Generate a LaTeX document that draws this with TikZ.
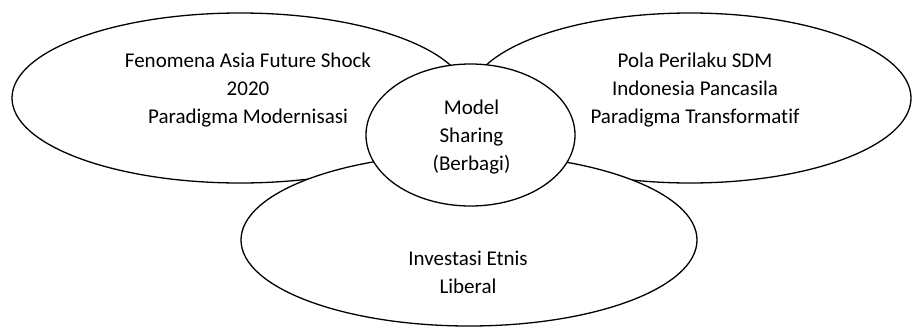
\documentclass[tikz,border=0pt]{standalone}
\usepackage{fontspec}
\setmainfont{Carlito}[Ligatures=CommonOff]
\usetikzlibrary{shapes.geometric}
\tikzset{
  blob/.style={ellipse, draw, fill=white, line width=1.3pt, inner sep=0pt},
  words/.style={align=center, inner sep=0pt, font=\fontsize{21}{28}\selectfont}
}
\begin{document}
\begin{tikzpicture}[x = 1pt, y = -1pt]
    \useasboundingbox (0,0) rectangle (912,327);
    \node[blob, minimum width=456pt, minimum height=170pt] (shock) at (240,98) {};
    \node[words] (shocktext) at (248,90)
      {Fenomena Asia Future Shock\\2020\\Paradigma Modernisasi};
    \node[blob, minimum width=442pt, minimum height=170pt] (sdm) at (690,98) {};
    \node[words] (sdmtext) at (695,90)
      {Pola Perilaku SDM\\Indonesia Pancasila\\Paradigma Transformatif};
    \node[blob, minimum width=456pt, minimum height=172pt] (etnis) at (469,240) {};
    \node[words] (etnistext) at (468,272) {Investasi Etnis\\Liberal};
    \node[blob, minimum width=209pt, minimum height=142pt] (sharing) at (470.5,135) {};
    \node[words] (sharingtext) at (471.5,137) {Model\\Sharing\\(Berbagi)};
\end{tikzpicture}
\end{document}
